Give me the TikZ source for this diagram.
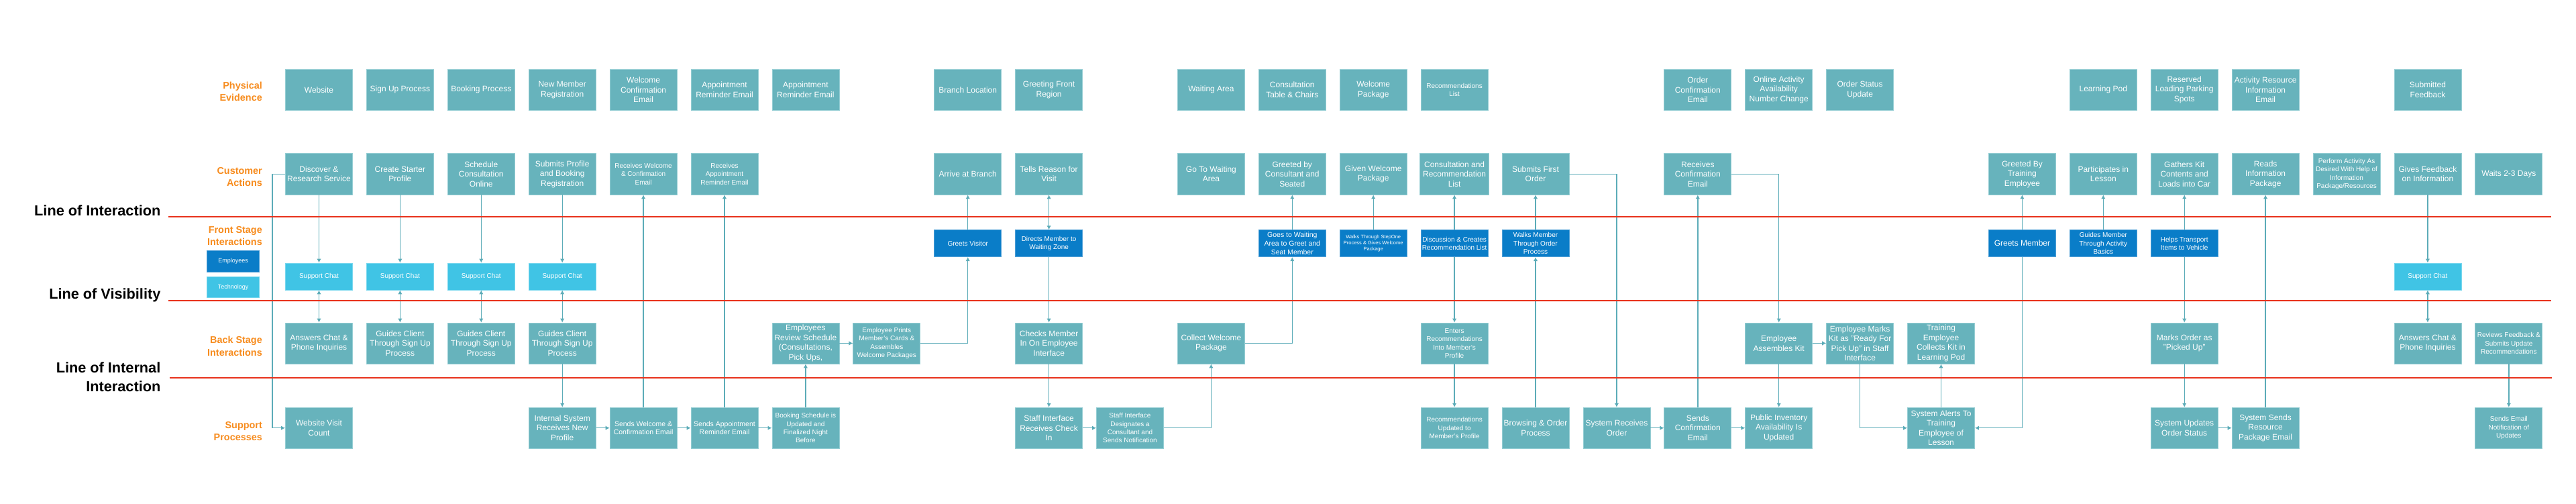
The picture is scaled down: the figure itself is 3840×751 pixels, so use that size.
\documentclass[tikz,border=0pt]{standalone}
\usepackage{fontspec}
\setmainfont{Liberation Sans}
\usetikzlibrary{arrows.meta}
\definecolor{boxfill}{RGB}{103,179,188}
\definecolor{boxedge}{RGB}{150,206,212}
\definecolor{empblue}{RGB}{10,125,200}
\definecolor{empedge}{RGB}{80,160,215}
\definecolor{techcyan}{RGB}{64,196,229}
\definecolor{techedge}{RGB}{120,215,238}
\definecolor{linecol}{RGB}{92,172,184}
\definecolor{redline}{RGB}{232,50,28}
\definecolor{lanecol}{RGB}{247,140,30}
\newcommand{\colx}[1]{475.5+120.9*#1}
\newcommand{\rowPE}{133.8}
\newcommand{\rowCA}{259.4}
\newcommand{\rowFE}{362.7}
\newcommand{\rowFT}{412}
\newcommand{\rowBS}{511.5}
\newcommand{\rowSP}{637.7}
\begin{document}
\begin{tikzpicture}[x=1pt,y=-1pt,
  box/.style={draw=boxedge, line width=0.8pt, fill=boxfill, minimum width=100pt, minimum height=61pt,
    inner sep=0pt, align=center, text=white, font=\fontsize{12}{14.5}\selectfont},
  sm/.style={font=\fontsize{10}{12.3}\selectfont},
  smm/.style={font=\fontsize{10.5}{12.5}\selectfont},
  tiny/.style={font=\fontsize{7.5}{9.3}\selectfont},
  emp/.style={box, fill=empblue, draw=empedge, minimum height=40pt, font=\fontsize{10}{12.3}\selectfont},
  tech/.style={box, fill=techcyan, draw=techedge, minimum height=40pt, font=\fontsize{10}{12}\selectfont},
  conn/.style={draw=linecol, line width=1.4pt, -{Latex[length=6pt,width=6.5pt]}},
  dconn/.style={draw=linecol, line width=1.4pt, {Latex[length=6pt,width=6.5pt]}-{Latex[length=6pt,width=6.5pt]}},
  lane/.style={anchor=east, align=right, text=lanecol, font=\bfseries\fontsize{14.4}{18.4}\selectfont, inner sep=0pt},
  linelab/.style={anchor=east, align=right, font=\bfseries\fontsize{21.7}{28}\selectfont, inner sep=0pt},
  sep/.style={draw=redline, line width=2.2pt}
]
\useasboundingbox[fill=white] (0,0) rectangle (3840,751);

% lane labels
\node[lane] (lpe) at (391,136.2) {Physical\\Evidence};
\node[lane] (lca) at (391,263.8) {Customer\\Actions};
\node[lane] (lfs) at (391,351.7) {Front Stage\\Interactions};
\node[lane] (lbs) at (391,516) {Back Stage\\Interactions};
\node[lane] (lsp) at (391,642.5) {Support\\Processes};
\node[emp, minimum width=78pt, minimum height=31.6pt, font=\fontsize{9}{11}\selectfont] (legE) at (347.6,389.5) {Employees};
\node[tech, minimum width=78pt, minimum height=31.6pt, font=\fontsize{9}{11}\selectfont] (legT) at (347.6,427.7) {Technology};

% line labels
\node[linelab] (loi) at (239.5,314) {Line of Interaction};
\node[linelab] (lov) at (239.5,440) {Line of Visibility};
\node[linelab] (lii) at (239.5,561.5) {Line of Internal\\Interaction};

% Physical evidence
\node[box] (pe0) at ({\colx{0}},\rowPE) {Website};
\node[box] (pe1) at ({\colx{1}},\rowPE) {Sign Up Process};
\node[box] (pe2) at ({\colx{2}},\rowPE) {Booking Process};
\node[box] (pe3) at ({\colx{3}},\rowPE) {New Member\\Registration};
\node[box] (pe4) at ({\colx{4}},\rowPE) {Welcome\\Confirmation\\Email};
\node[box] (pe5) at ({\colx{5}},\rowPE) {Appointment\\Reminder Email};
\node[box] (pe6) at ({\colx{6}},\rowPE) {Appointment\\Reminder Email};
\node[box] (pe8) at ({\colx{8}},\rowPE) {Branch Location};
\node[box] (pe9) at ({\colx{9}},\rowPE) {Greeting Front\\Region};
\node[box] (pe11) at ({\colx{11}},\rowPE) {Waiting Area};
\node[box] (pe12) at ({\colx{12}},\rowPE) {Consultation\\Table \& Chairs};
\node[box] (pe13) at ({\colx{13}},\rowPE) {Welcome\\Package};
\node[box,sm] (pe14) at ({\colx{14}},\rowPE) {Recommendations\\List};
\node[box] (pe17) at ({\colx{17}},\rowPE) {Order\\Confirmation\\Email};
\node[box] (pe18) at ({\colx{18}},\rowPE) {Online Activity\\Availability\\Number Change};
\node[box] (pe19) at ({\colx{19}},\rowPE) {Order Status\\Update};
\node[box] (pe22) at ({\colx{22}},\rowPE) {Learning Pod};
\node[box] (pe23) at ({\colx{23}},\rowPE) {Reserved\\Loading Parking\\Spots};
\node[box] (pe24) at ({\colx{24}},\rowPE) {Activity Resource\\Information\\Email};
\node[box] (pe26) at ({\colx{26}},\rowPE) {Submitted\\Feedback};

% Customer actions
\node[box] (ca0) at ({\colx{0}},\rowCA) {Discover \&\\Research Service};
\node[box] (ca1) at ({\colx{1}},\rowCA) {Create Starter\\Profile};
\node[box] (ca2) at ({\colx{2}},\rowCA) {Schedule\\Consultation\\Online};
\node[box] (ca3) at ({\colx{3}},\rowCA) {Submits Profile\\and Booking\\Registration};
\node[box,sm] (ca4) at ({\colx{4}},\rowCA) {Receives Welcome\\\& Confirmation\\Email};
\node[box,sm] (ca5) at ({\colx{5}},\rowCA) {Receives\\Appointment\\Reminder Email};
\node[box] (ca8) at ({\colx{8}},\rowCA) {Arrive at Branch};
\node[box] (ca9) at ({\colx{9}},\rowCA) {Tells Reason for\\Visit};
\node[box] (ca11) at ({\colx{11}},\rowCA) {Go To Waiting\\Area};
\node[box] (ca12) at ({\colx{12}},\rowCA) {Greeted by\\Consultant and\\Seated};
\node[box] (ca13) at ({\colx{13}},\rowCA) {Given Welcome\\Package};
\node[box, minimum width=103pt] (ca14) at ({\colx{14}},\rowCA) {Consultation and\\Recommendation\\List};
\node[box] (ca15) at ({\colx{15}},\rowCA) {Submits First\\Order};
\node[box] (ca17) at ({\colx{17}},\rowCA) {Receives\\Confirmation\\Email};
\node[box] (ca21) at ({\colx{21}},\rowCA) {Greeted By\\Training\\Employee};
\node[box] (ca22) at ({\colx{22}},\rowCA) {Participates in\\Lesson};
\node[box] (ca23) at ({\colx{23}},\rowCA) {Gathers Kit\\Contents and\\Loads into Car};
\node[box] (ca24) at ({\colx{24}},\rowCA) {Reads\\Information\\Package};
\node[box,sm] (ca25) at ({\colx{25}},\rowCA) {Perform Activity As\\Desired With Help of\\Information\\Package/Resources};
\node[box] (ca26) at ({\colx{26}},\rowCA) {Gives Feedback\\on Information};
\node[box] (ca27) at ({\colx{27}},\rowCA) {Waits 2-3 Days};

% Front stage: employees
\node[emp] (fe8) at ({\colx{8}},\rowFE) {Greets Visitor};
\node[emp] (fe9) at ({\colx{9}},\rowFE) {Directs Member to\\Waiting Zone};
\node[emp, font=\fontsize{10.5}{12.7}\selectfont] (fe12) at ({\colx{12}},\rowFE) {Goes to Waiting\\Area to Greet and\\Seat Member};
\node[emp, tiny] (fe13) at ({\colx{13}},\rowFE) {Walks Through StepOne\\Process \& Gives Welcome\\Package};
\node[emp] (fe14) at ({\colx{14}},\rowFE) {Discussion \& Creates\\Recommendation List};
\node[emp] (fe15) at ({\colx{15}},\rowFE) {Walks Member\\Through Order\\Process};
\node[emp, font=\fontsize{12}{14.5}\selectfont] (fe21) at ({\colx{21}},\rowFE) {Greets Member};
\node[emp] (fe22) at ({\colx{22}},\rowFE) {Guides Member\\Through Activity\\Basics};
\node[emp] (fe23) at ({\colx{23}},\rowFE) {Helps Transport\\Items to Vehicle};

% Front stage: technology
\node[tech] (ft0) at ({\colx{0}},\rowFT) {Support Chat};
\node[tech] (ft1) at ({\colx{1}},\rowFT) {Support Chat};
\node[tech] (ft2) at ({\colx{2}},\rowFT) {Support Chat};
\node[tech] (ft3) at ({\colx{3}},\rowFT) {Support Chat};
\node[tech] (ft26) at ({\colx{26}},\rowFT) {Support Chat};

% Back stage
\node[box] (bs0) at ({\colx{0}},\rowBS) {Answers Chat \&\\Phone Inquiries};
\node[box] (bs1) at ({\colx{1}},\rowBS) {Guides Client\\Through Sign Up\\Process};
\node[box] (bs2) at ({\colx{2}},\rowBS) {Guides Client\\Through Sign Up\\Process};
\node[box] (bs3) at ({\colx{3}},\rowBS) {Guides Client\\Through Sign Up\\Process};
\node[box] (bs6) at ({\colx{6}},\rowBS) {Employees\\Review Schedule\\(Consultations,\\Pick Ups,};
\node[box,sm] (bs7) at ({\colx{7}},\rowBS) {Employee Prints\\Member's Cards \&\\Assembles\\Welcome Packages};
\node[box] (bs9) at ({\colx{9}},\rowBS) {Checks Member\\In On Employee\\Interface};
\node[box] (bs11) at ({\colx{11}},\rowBS) {Collect Welcome\\Package};
\node[box,sm] (bs14) at ({\colx{14}},\rowBS) {Enters\\Recommendations\\Into Member's\\Profile};
\node[box] (bs18) at ({\colx{18}},\rowBS) {Employee\\Assembles Kit};
\node[box] (bs19) at ({\colx{19}},\rowBS) {Employee Marks\\Kit as "Ready For\\Pick Up" in Staff\\Interface};
\node[box] (bs20) at ({\colx{20}},\rowBS) {Training\\Employee\\Collects Kit in\\Learning Pod};
\node[box] (bs23) at ({\colx{23}},\rowBS) {Marks Order as\\"Picked Up"};
\node[box] (bs26) at ({\colx{26}},\rowBS) {Answers Chat \&\\Phone Inquiries};
\node[box,sm] (bs27) at ({\colx{27}},\rowBS) {Reviews Feedback \&\\Submits Update\\Recommendations};

% Support processes
\node[box] (sp0) at ({\colx{0}},\rowSP) {Website Visit\\Count};
\node[box] (sp3) at ({\colx{3}},\rowSP) {Internal System\\Receives New\\Profile};
\node[box,smm] (sp4) at ({\colx{4}},\rowSP) {Sends Welcome \&\\Confirmation Email};
\node[box,smm] (sp5) at ({\colx{5}},\rowSP) {Sends Appointment\\Reminder Email};
\node[box,sm] (sp6) at ({\colx{6}},\rowSP) {Booking Schedule is\\Updated and\\Finalized Night\\Before};
\node[box] (sp9) at ({\colx{9}},\rowSP) {Staff Interface\\Receives Check\\In};
\node[box,sm] (sp10) at ({\colx{10}},\rowSP) {Staff Interface\\Designates a\\Consultant and\\Sends Notification};
\node[box,sm] (sp14) at ({\colx{14}},\rowSP) {Recommendations\\Updated to\\Member's Profile};
\node[box] (sp15) at ({\colx{15}},\rowSP) {Browsing \& Order\\Process};
\node[box] (sp16) at ({\colx{16}},\rowSP) {System Receives\\Order};
\node[box] (sp17) at ({\colx{17}},\rowSP) {Sends\\Confirmation\\Email};
\node[box] (sp18) at ({\colx{18}},\rowSP) {Public Inventory\\Availability Is\\Updated};
\node[box] (sp20) at ({\colx{20}},\rowSP) {System Alerts To\\Training\\Employee of\\Lesson};
\node[box] (sp23) at ({\colx{23}},\rowSP) {System Updates\\Order Status};
\node[box] (sp24) at ({\colx{24}},\rowSP) {System Sends\\Resource\\Package Email};
\node[box,sm] (sp27) at ({\colx{27}},\rowSP) {Sends Email\\Notification of\\Updates};

% connectors
\draw[conn] (ca0.west) -- ++(-19,0) |- (sp0.west);
\foreach \i in {0,1,2,3,26}{
  \draw[conn] (ca\i.south) -- (ft\i.north);
  \draw[dconn] (ft\i.south) -- (bs\i.north);
}
\draw[conn] (bs3.south) -- (sp3.north);
\draw[conn] (sp3.east) -- (sp4.west);
\draw[conn] (sp4.east) -- (sp5.west);
\draw[conn] (sp5.east) -- (sp6.west);
\draw[conn] (sp4.north) -- (ca4.south);
\draw[conn] (sp5.north) -- (ca5.south);
\draw[conn] (sp6.north) -- (bs6.south);
\draw[conn] (bs6.east) -- (bs7.west);
\draw[conn] (bs7.east) -| (fe8.south);
\draw[conn] (fe8.north) -- (ca8.south);
\draw[dconn] (fe9.north) -- (ca9.south);
\draw[conn] (fe9.south) -- (bs9.north);
\draw[conn] (bs9.south) -- (sp9.north);
\draw[conn] (sp9.east) -- (sp10.west);
\draw[conn] (sp10.east) -| (bs11.south);
\draw[conn] (bs11.east) -| (fe12.south);
\draw[conn] (fe12.north) -- (ca12.south);
\draw[conn] (fe13.north) -- (ca13.south);
\draw[conn] (fe14.north) -- (ca14.south);
\draw[conn] (fe14.south) -- (bs14.north);
\draw[conn] (bs14.south) -- (sp14.north);
\draw[conn] (sp15.north) -- (fe15.south);
\draw[conn] (fe15.north) -- (ca15.south);
\draw[conn] (ca15.east) -| (sp16.north);
\draw[conn] (sp16.east) -- (sp17.west);
\draw[conn] (sp17.north) -- (ca17.south);
\draw[conn] (sp17.east) -- (sp18.west);
\draw[conn] (ca17.east) -| (bs18.north);
\draw[conn] (bs18.south) -- (sp18.north);
\draw[conn] (bs18.east) -- (bs19.west);
\draw[conn] (bs19.south) |- (sp20.west);
\draw[conn] (sp20.north) -- (bs20.south);
\draw[conn] (fe21.south) |- (sp20.east);
\draw[conn] (fe21.north) -- (ca21.south);
\draw[conn] (fe22.north) -- (ca22.south);
\draw[conn] (fe23.north) -- (ca23.south);
\draw[conn] (fe23.south) -- (bs23.north);
\draw[conn] (bs23.south) -- (sp23.north);
\draw[conn] (sp23.east) -- (sp24.west);
\draw[conn] (sp24.north) -- (ca24.south);
\draw[conn] (bs27.south) -- (sp27.north);

% separator lines
\coordinate (i1) at (251,323.3); \coordinate (i2) at (3803,323.3);
\coordinate (v1) at (251,448); \coordinate (v2) at (3803,448);
\coordinate (n1) at (252.5,563); \coordinate (n2) at (3804,563);
\draw[sep] (i1) -- (i2);
\draw[sep] (v1) -- (v2);
\draw[sep] (n1) -- (n2);
\end{tikzpicture}
\end{document}
